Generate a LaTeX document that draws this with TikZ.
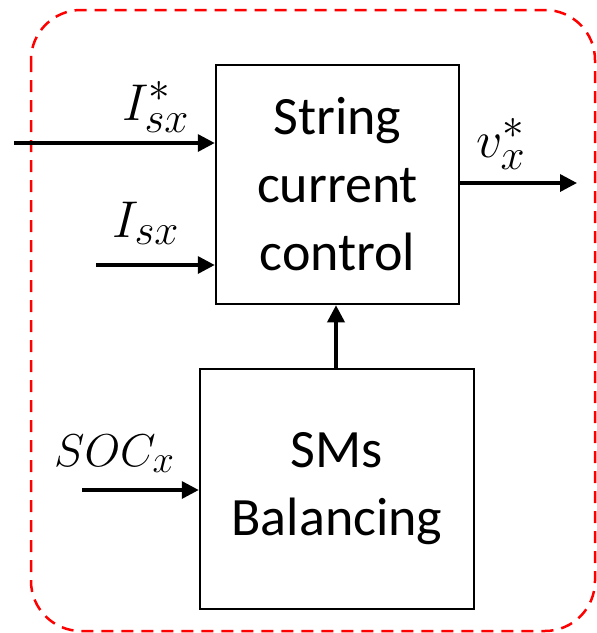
\documentclass[tikz,border=0pt]{standalone}
\usepackage{graphicx}
\usepackage{fontspec}
\setmainfont{Carlito}
\usetikzlibrary{arrows.meta}
\newcommand{\biglbl}[2][2.08]{\scalebox{#1}{\fontsize{24.88}{30}\selectfont$#2$}}
\begin{document}
\begin{tikzpicture}[x=1pt,y=1pt,
  blk/.style={draw,line width=2.5pt,inner sep=0pt,font=\fontsize{54}{68}\selectfont,align=center},
  sig/.style={line width=3.5pt,-{Triangle[length=17pt,width=17pt]}},
  lbl/.style={inner sep=0pt,anchor=base west}]
\useasboundingbox (0,0) rectangle (597,-633);
\draw[red,line width=2.5pt,dash pattern=on 12pt off 8pt,rounded corners=50pt] (31,-10) rectangle (595,-631);
\node[blk,minimum width=243pt,minimum height=239pt] (scc) at (337.5,-184.5) {String\\current\\control};
\node[blk,minimum width=274pt,minimum height=240pt] (smb) at (337,-489) {SMs\\Balancing};
\coordinate (a1) at (14,-143);
\coordinate (a2) at (96,-265);
\coordinate (a3) at (82,-490);
\coordinate (o1) at (577,-183);
\draw[sig] (a1) -- (a1 -| scc.west);
\draw[sig] (a2) -- (a2 -| scc.west);
\draw[sig] (a3) -- (a3 -| smb.west);
\draw[sig] (scc.east |- o1) -- (o1);
\draw[sig] (smb.north -| 336,0) -- (scc.south -| 336,0);
\node[lbl] (l1) at (122,-120) {\biglbl{I_{sx}^{*}}};
\node[lbl] (l2) at (112,-237) {\biglbl{I_{sx}}};
\node[lbl] (l3) at (476,-157) {\biglbl{v_{x}^{*}}};
\node[lbl] (l4) at (54,-466) {\biglbl[1.85]{SOC_{x}}};
\end{tikzpicture}
\end{document}
